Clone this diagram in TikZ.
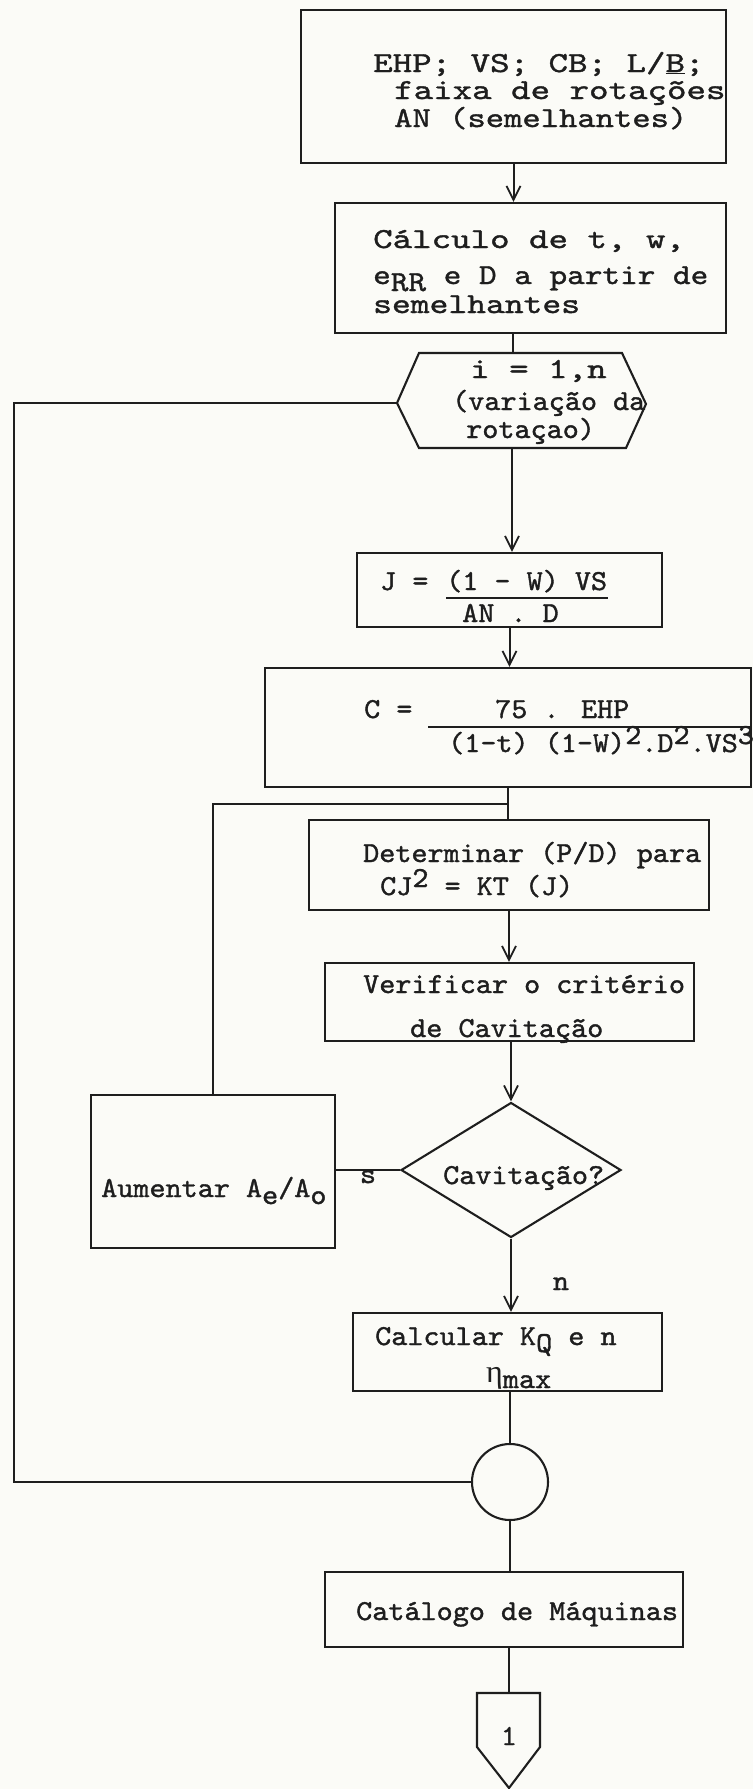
\documentclass[tikz,border=0pt]{standalone}
\usepackage{fontspec}
\usepackage{graphicx}
\usetikzlibrary{arrows.meta,shapes.geometric}
\newfontfamily\grkf{Liberation Serif}
\newfontfamily\twlowfam[Extension=.otf,FakeStretch=1.057,FakeBold=1.3]{lmmono10-regular}
\newfontfamily\twtopfam[Extension=.otf,FakeStretch=1.28,FakeBold=1.3]{lmmono10-regular}
\newcommand\twlowf{\twlowfam\fontsize{29}{34}\selectfont}
\newcommand\twtopf{\twtopfam\fontsize{29}{34}\selectfont}
\definecolor{ink}{RGB}{30,30,30}
\definecolor{paper}{RGB}{251,251,247}
\newcommand\upr[1]{\raisebox{8pt}[0pt][0pt]{#1}}
\newcommand\dnr[1]{\raisebox{-7pt}[0pt][0pt]{#1}}
\tikzset{
  boxs/.style={draw=ink, line width=2.1pt, rectangle, inner sep=0pt},
  ln/.style={draw=ink, line width=2pt},
  arr/.style={ln, -{Straight Barb[length=14pt,width=14pt,line width=1.8pt]}},
  bar/.style={draw=ink, line width=1.6pt},
  lowtxt/.style={inner sep=0pt, text=ink, anchor=base west, font=\twlowf},
  toptxt/.style={inner sep=0pt, text=ink, anchor=base west, font=\twtopf},
}
\begin{document}
\begin{tikzpicture}[x=1pt,y=-1pt]
\fill[paper] (0,0) rectangle (753,1789);
\useasboundingbox (0,0) rectangle (753,1789);

% ---------- boxes ----------
\node[boxs, minimum width=425pt, minimum height=153pt] (b1)   at (513.5,86.5) {};
\node[boxs, minimum width=391pt, minimum height=130pt] (b2)   at (530.5,268) {};
\node[boxs, minimum width=305pt, minimum height=74pt]  (J)    at (509.5,590) {};
\node[boxs, minimum width=486pt, minimum height=119pt] (C)    at (508,727.5) {};
\node[boxs, minimum width=400pt, minimum height=90pt]  (Det)  at (509,865) {};
\node[boxs, minimum width=369pt, minimum height=78pt]  (Ver)  at (509.5,1002) {};
\node[boxs, minimum width=244pt, minimum height=153pt] (Aum)  at (213,1171.5) {};
\node[boxs, minimum width=309pt, minimum height=78pt]  (Calc) at (507.5,1352) {};
\node[boxs, minimum width=358pt, minimum height=75pt]  (Cat)  at (504,1609.5) {};
\node[draw=ink, line width=2.1pt, diamond, minimum width=220pt, minimum height=135pt, inner sep=0pt] (dia) at (511,1170) {};
\node[draw=ink, line width=2.1pt, circle, minimum size=76pt, inner sep=0pt] (circ) at (510,1482) {};

% hexagon (loop header)
\coordinate (hA) at (419,353);
\coordinate (hB) at (622,353);
\coordinate (hR) at (646,404);
\coordinate (hC) at (626,448);
\coordinate (hD) at (419,448);
\coordinate (hL) at (397,403);
\coordinate (hT) at (513,353);
\coordinate (hS) at (512,448);
\draw[ln, line width=2.1pt] (hA) -- (hB) -- (hR) -- (hC) -- (hD) -- (hL) -- cycle;

% off-page connector
\coordinate (oA) at (477,1693);
\coordinate (oB) at (540,1693);
\coordinate (oC) at (540,1747);
\coordinate (oD) at (509,1788);
\coordinate (oE) at (477,1747);
\coordinate (oT) at (509,1693);
\draw[ln, line width=2.1pt] (oA) -- (oB) -- (oC) -- (oD) -- (oE) -- cycle;

% ---------- texts ----------
\node[toptxt] (t1a) at (373,72)  {EHP; VS; CB; L/\underline{B};};
\node[toptxt] (t1b) at (394,99)  {faixa de rotações};
\node[toptxt] (t1c) at (394,127) {\scalebox{0.94}[1]{AN (semelhantes)}};

\node[toptxt] (t2a) at (373,248) {Cálculo de t, w,};
\node[toptxt] (t2b) at (373,284) {\scalebox{0.905}[1]{e\dnr{RR} e D a partir de}};
\node[toptxt] (t2c) at (373,313) {\scalebox{0.965}[1]{semelhantes}};

\node[toptxt] (h1) at (470,378) {i = 1,n};
\node[lowtxt] (h2) at (452,410) {(variação da};
\node[lowtxt] (h3) at (466,438) {rotaçao)};

\node[lowtxt] (j1) at (380,590) {J =};
\node[lowtxt] (j2) at (446,590) {(1 - W) VS};
\node[lowtxt] (j3) at (462,622) {AN . D};
\draw[bar] (446,598) -- (608,598);

\node[lowtxt] (c1) at (364,718) {C =};
\node[lowtxt] (c2) at (495,718) {75 . EHP};
\node[lowtxt] (c3) at (448,752) {(1-t) (1-W)\upr{2}.D\upr{2}.VS\upr{3}};
\draw[bar] (428,727) -- (752,727);

\node[lowtxt] (d1) at (363,862) {Determinar (P/D) para};
\node[lowtxt] (d2) at (380,895) {CJ\upr{2} = KT (J)};

\node[lowtxt] (v1) at (363,993)  {Verificar o critério};
\node[lowtxt] (v2) at (410,1037) {de Cavitação};

\node[lowtxt] (q1) at (443,1184) {Cavitação?};

\node[lowtxt] (a1) at (101,1197) {Aumentar A\dnr{e}/A\dnr{o}};

\node[lowtxt] (k1) at (375,1345) {Calcular K\dnr{Q} e n};
\node[lowtxt] (k2) at (486,1388) {\raisebox{6pt}{\grkf\fontsize{32}{34}\selectfont η}max};

\node[lowtxt] (m1) at (356,1620) {Catálogo de Máquinas};

\node[lowtxt, anchor=base] (o1) at (509,1745) {1};

\node[lowtxt, anchor=base] (ls) at (368,1183) {s};
\node[lowtxt, anchor=base] (ln) at (561,1290) {n};

% ---------- connectors ----------
\draw[arr] (b1.south) -- (b1.south |- b2.north);
\draw[ln]  (b2.south -| hT) -- (hT);
\draw[arr] (hS) -- (hS |- J.north);
\draw[arr] (J.south) -- (J.south |- C.north);
\draw[ln]  (C.south) -- (C.south |- Det.north);
\coordinate (jn) at (509,804);
\draw[ln]  (Aum.north) |- (jn);
\draw[arr] (Det.south) -- (Det.south |- Ver.north);
\draw[arr] (Ver.south -| dia.north) -- (dia.north);
\draw[ln]  (dia.west) -- (dia.west -| Aum.east);
\draw[arr] (dia.south) -- (dia.south |- Calc.north);
\draw[ln]  (Calc.south -| circ.north) -- (circ.north);
\coordinate (lc) at (14,1482);
\draw[ln]  (circ.west) -- (lc) |- (hL);
\draw[ln]  (circ.south) -- (circ.south |- Cat.north);
\draw[ln]  (Cat.south -| oT) -- (oT);
\end{tikzpicture}
\end{document}
